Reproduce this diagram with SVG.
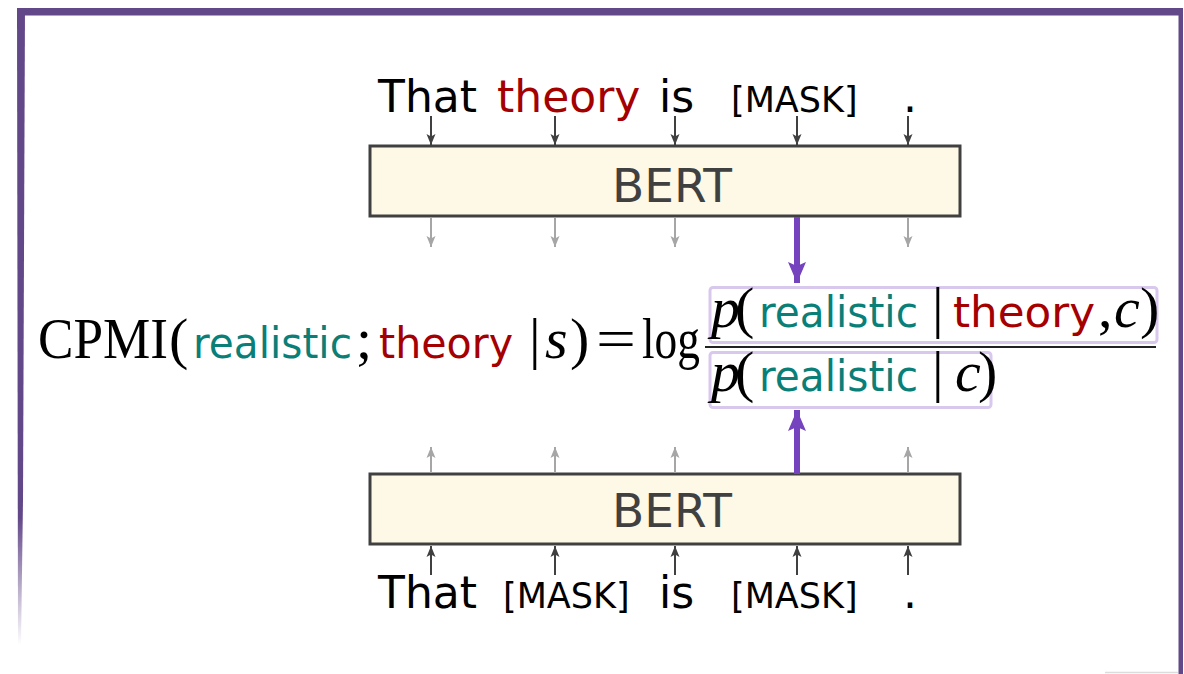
<svg xmlns="http://www.w3.org/2000/svg" width="1184" height="674" viewBox="0 0 1184 674">
<defs>
<style>
.tok{font-family:"DejaVu Sans",sans-serif;font-size:44px;fill:#000}
.mask{font-family:"DejaVu Sans",sans-serif;font-size:35px;fill:#000}
.bert{font-family:"DejaVu Sans",sans-serif;font-size:47px;fill:#404040;text-anchor:middle}
.box{fill:#fef8e6;stroke:#404040;stroke-width:3}
.m{font-family:"Liberation Serif","Times New Roman",serif;font-size:58px;fill:#000}
.mi{font-style:italic}
.sw{font-family:"DejaVu Sans",sans-serif;font-size:43px;font-style:normal}
.teal{fill:#0a7f78}
.red{fill:#a50000}
.pbox{fill:none;stroke:#d9c8ee;stroke-width:3}
.dark{stroke:#404040;stroke-width:2;fill:none}
.gray{stroke:#a6a6a6;stroke-width:2;fill:none}
.purp{stroke:#7443bd;stroke-width:6;fill:none}
</style>
<marker id="ahDark" markerUnits="userSpaceOnUse" markerWidth="12" markerHeight="12" viewBox="0 0 12 12" refX="11" refY="6" orient="auto">
<path d="M0,1.5 L11,6 L0,10.5 L2.5,6 z" fill="#404040"/>
</marker>
<marker id="ahGray" markerUnits="userSpaceOnUse" markerWidth="12" markerHeight="12" viewBox="0 0 12 12" refX="11" refY="6" orient="auto">
<path d="M0,1.5 L11,6 L0,10.5 L2.5,6 z" fill="#a6a6a6"/>
</marker>
<marker id="ahPurp" markerUnits="userSpaceOnUse" markerWidth="22" markerHeight="22" viewBox="0 0 22 22" refX="21" refY="11" orient="auto">
<path d="M0,2 L21,11 L0,20 L4,11 z" fill="#7443bd"/>
</marker>
<linearGradient id="fadeL" x1="0" y1="0" x2="0" y2="1">
<stop offset="0" stop-color="#634889"/>
<stop offset="0.8" stop-color="#634889"/>
<stop offset="1" stop-color="#634889" stop-opacity="0"/>
</linearGradient>
</defs>
<rect width="1184" height="674" fill="#fff"/>
<g id="frame">
<rect x="17" y="8" width="1166" height="7.5" fill="#634889"/>
<polygon points="17,8 25,8 23,500 21,645 18,645" fill="url(#fadeL)"/>
<rect x="1178.5" y="15" width="4.5" height="659" fill="#634889"/>
<line x1="1105" y1="672.5" x2="1178" y2="672.5" stroke="#dcdcdc" stroke-width="1.5"/>
</g>
<g id="tokens-top">
<text class="tok" x="378" y="112">That</text>
<text class="tok red" x="497" y="112">theory</text>
<text class="tok" x="659" y="112">is</text>
<text class="mask" x="731" y="112">[MASK]</text>
<text class="tok" x="903" y="112">.</text>
</g>
<g id="bert-top">
<rect class="box" x="370" y="146" width="590" height="70"/>
<text class="bert" x="672" y="202">BERT</text>
</g>
<g id="bert-bottom">
<rect class="box" x="370" y="474" width="590" height="70"/>
<text class="bert" x="672" y="527">BERT</text>
</g>
<g id="tokens-bottom">
<text class="tok" x="378" y="608">That</text>
<text class="mask" x="503" y="608">[MASK]</text>
<text class="tok" x="659" y="608">is</text>
<text class="mask" x="731" y="608">[MASK]</text>
<text class="tok" x="903" y="608">.</text>
</g>
<g id="formula">
<text class="m" y="358"><tspan x="38" textLength="130" lengthAdjust="spacingAndGlyphs">CPMI</tspan><tspan x="169">(</tspan><tspan class="sw teal" x="193" textLength="159" lengthAdjust="spacingAndGlyphs">realistic</tspan><tspan x="356">;</tspan><tspan class="sw red" x="379" textLength="134" lengthAdjust="spacingAndGlyphs">theory</tspan><tspan x="529">|</tspan><tspan class="mi" x="545">s</tspan><tspan x="570">)</tspan><tspan x="596" textLength="40" lengthAdjust="spacingAndGlyphs">=</tspan><tspan x="642" textLength="58" lengthAdjust="spacingAndGlyphs">log</tspan></text>
<line x1="705" y1="347" x2="1156" y2="347" stroke="#222" stroke-width="2"/>
</g>
<g id="numerator">
<rect class="pbox" x="710" y="287.5" width="447" height="55" rx="3"/>
<text class="m" y="327"><tspan class="mi" x="711">p</tspan><tspan x="735">(</tspan><tspan class="sw teal" x="759" textLength="159" lengthAdjust="spacingAndGlyphs">realistic</tspan><tspan x="932">|</tspan><tspan class="sw red" x="953" textLength="142" lengthAdjust="spacingAndGlyphs">theory</tspan><tspan x="1098">,</tspan><tspan class="mi" x="1114">c</tspan><tspan x="1140">)</tspan></text>
</g>
<g id="denominator">
<rect class="pbox" x="710" y="352.5" width="281" height="55" rx="3"/>
<text class="m" y="391"><tspan class="mi" x="711">p</tspan><tspan x="735">(</tspan><tspan class="sw teal" x="759" textLength="159" lengthAdjust="spacingAndGlyphs">realistic</tspan><tspan x="932">|</tspan><tspan class="mi" x="955">c</tspan><tspan x="978">)</tspan></text>
</g>
<g id="connectors">
<line class="dark" x1="431" y1="116" x2="431" y2="145" marker-end="url(#ahDark)"/>
<line class="dark" x1="555" y1="116" x2="555" y2="145" marker-end="url(#ahDark)"/>
<line class="dark" x1="675" y1="116" x2="675" y2="145" marker-end="url(#ahDark)"/>
<line class="dark" x1="797" y1="116" x2="797" y2="145" marker-end="url(#ahDark)"/>
<line class="dark" x1="908" y1="116" x2="908" y2="145" marker-end="url(#ahDark)"/>
<line class="gray" x1="431" y1="218" x2="431" y2="247" marker-end="url(#ahGray)"/>
<line class="gray" x1="555" y1="218" x2="555" y2="247" marker-end="url(#ahGray)"/>
<line class="gray" x1="675" y1="218" x2="675" y2="247" marker-end="url(#ahGray)"/>
<line class="gray" x1="908" y1="218" x2="908" y2="247" marker-end="url(#ahGray)"/>
<line class="purp" x1="797" y1="217" x2="797" y2="283" marker-end="url(#ahPurp)"/>
<line class="gray" x1="431" y1="473" x2="431" y2="447" marker-end="url(#ahGray)"/>
<line class="gray" x1="555" y1="473" x2="555" y2="447" marker-end="url(#ahGray)"/>
<line class="gray" x1="675" y1="473" x2="675" y2="447" marker-end="url(#ahGray)"/>
<line class="gray" x1="908" y1="473" x2="908" y2="447" marker-end="url(#ahGray)"/>
<line class="purp" x1="797" y1="474" x2="797" y2="410" marker-end="url(#ahPurp)"/>
<line class="dark" x1="431" y1="575" x2="431" y2="546" marker-end="url(#ahDark)"/>
<line class="dark" x1="555" y1="575" x2="555" y2="546" marker-end="url(#ahDark)"/>
<line class="dark" x1="675" y1="575" x2="675" y2="546" marker-end="url(#ahDark)"/>
<line class="dark" x1="797" y1="575" x2="797" y2="546" marker-end="url(#ahDark)"/>
<line class="dark" x1="908" y1="575" x2="908" y2="546" marker-end="url(#ahDark)"/>
</g>
</svg>
